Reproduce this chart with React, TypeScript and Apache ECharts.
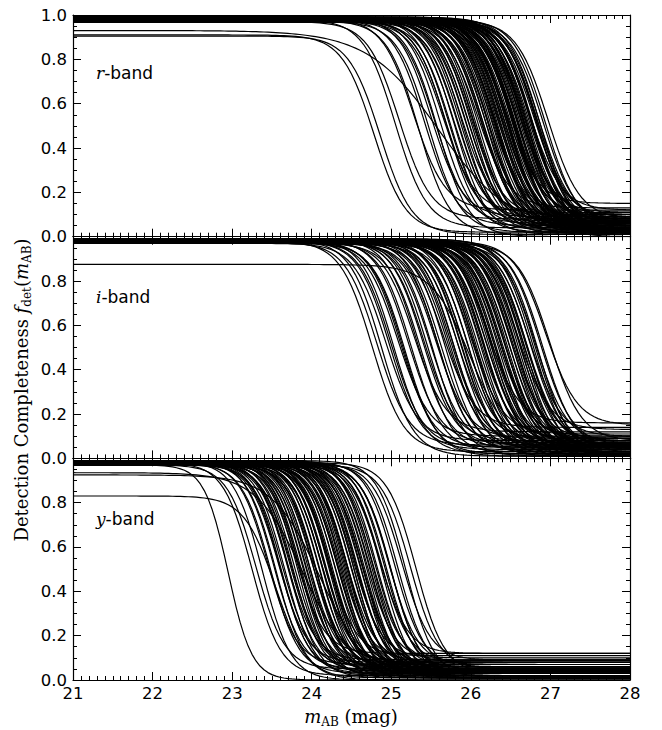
import React, { useEffect, useRef } from "react";
import * as echarts from "echarts";

// Each curve: [m50 (mag), upper plateau, lower floor, optional width (mag)]
const rBand: number[][] = [
  [24.78, 0.91, 0.02, 0.2], [24.86, 0.905, 0.01, 0.2], [25.6, 0.93, 0.03, 0.45],
  [25.05, 0.98, 0.04], [25.1, 0.97, 0.08], [25.28, 0.985, 0.12], [25.34, 0.975, 0.01],
  [25.42, 0.98, 0.05], [25.47, 0.97, 0.02], [25.5, 0.99, 0.09], [25.55, 0.975, 0.06],
  [25.58, 0.98, 0.0], [25.62, 0.985, 0.04], [25.65, 0.97, 0.11], [25.68, 0.98, 0.07],
  [25.7, 0.975, 0.02], [25.72, 0.99, 0.05], [25.75, 0.97, 0.03], [25.78, 0.98, 0.08],
  [25.8, 0.985, 0.01], [25.83, 0.975, 0.06], [25.85, 0.97, 0.04], [25.88, 0.98, 0.1],
  [25.9, 0.99, 0.02], [25.93, 0.975, 0.07], [25.95, 0.98, 0.03], [25.98, 0.97, 0.05],
  [26.0, 0.985, 0.09], [26.02, 0.98, 0.01], [26.04, 0.975, 0.06], [26.06, 0.99, 0.04],
  [26.08, 0.97, 0.13], [26.1, 0.98, 0.02], [26.12, 0.985, 0.07], [26.14, 0.975, 0.05],
  [26.16, 0.98, 0.03], [26.18, 0.97, 0.08], [26.2, 0.99, 0.01], [26.21, 0.98, 0.06],
  [26.23, 0.975, 0.04], [26.25, 0.985, 0.1], [26.26, 0.97, 0.02], [26.27, 0.98, 0.04],
  [26.28, 0.98, 0.07], [26.3, 0.99, 0.05], [26.31, 0.975, 0.03], [26.33, 0.98, 0.09],
  [26.35, 0.97, 0.01], [26.36, 0.985, 0.06], [26.37, 0.975, 0.02], [26.38, 0.98, 0.04],
  [26.4, 0.975, 0.08], [26.41, 0.99, 0.02], [26.43, 0.97, 0.05], [26.44, 0.98, 0.15],
  [26.45, 0.98, 0.06], [26.46, 0.985, 0.03], [26.47, 0.975, 0.07], [26.49, 0.98, 0.01],
  [26.5, 0.97, 0.06], [26.52, 0.99, 0.04], [26.53, 0.98, 0.09], [26.54, 0.97, 0.03],
  [26.55, 0.975, 0.02], [26.56, 0.985, 0.05], [26.57, 0.975, 0.0], [26.58, 0.97, 0.08],
  [26.59, 0.98, 0.03], [26.61, 0.99, 0.06], [26.62, 0.975, 0.01], [26.63, 0.985, 0.08],
  [26.64, 0.98, 0.04], [26.65, 0.97, 0.1], [26.66, 0.99, 0.07], [26.67, 0.985, 0.02],
  [26.68, 0.98, 0.07], [26.7, 0.975, 0.05], [26.71, 0.99, 0.03], [26.72, 0.98, 0.05],
  [26.73, 0.97, 0.08], [26.74, 0.98, 0.12], [26.76, 0.985, 0.04], [26.77, 0.975, 0.06],
  [26.79, 0.98, 0.02], [26.8, 0.97, 0.09], [26.82, 0.99, 0.05], [26.84, 0.98, 0.03],
  [26.86, 0.975, 0.07], [26.88, 0.985, 0.01], [26.91, 0.97, 0.06], [26.94, 0.98, 0.04],
  [26.97, 0.975, 0.08],
  [26.32, 0.97, 0.05], [26.42, 0.985, 0.07], [26.48, 0.98, 0.02], [26.51, 0.975, 0.1],
  [26.6, 0.97, 0.04], [26.69, 0.98, 0.01], [26.75, 0.99, 0.06], [26.78, 0.975, 0.03],
  [26.83, 0.98, 0.08], [26.85, 0.97, 0.05], [26.22, 0.985, 0.03], [26.15, 0.98, 0.06],
  [26.05, 0.975, 0.02], [25.96, 0.985, 0.07], [25.87, 0.98, 0.05], [26.62, 0.98, 0.11],
  [26.56, 0.99, 0.02], [26.46, 0.97, 0.04], [26.39, 0.98, 0.06], [26.29, 0.985, 0.09],
];

const iBand: number[][] = [
  [26.0, 0.875, 0.03, 0.25],
  [24.76, 0.98, 0.03], [24.82, 0.975, 0.06], [24.88, 0.985, 0.01], [24.93, 0.97, 0.08],
  [24.98, 0.98, 0.04], [25.03, 0.99, 0.02], [25.08, 0.975, 0.1], [25.12, 0.98, 0.05],
  [25.17, 0.97, 0.01], [25.21, 0.985, 0.07], [25.25, 0.98, 0.03], [25.29, 0.975, 0.12],
  [25.33, 0.99, 0.05], [25.37, 0.97, 0.02], [25.41, 0.98, 0.08], [25.45, 0.985, 0.04],
  [25.49, 0.975, 0.06], [25.52, 0.98, 0.01], [25.56, 0.97, 0.09], [25.59, 0.99, 0.03],
  [25.62, 0.98, 0.05], [25.65, 0.975, 0.14], [25.68, 0.985, 0.02], [25.71, 0.97, 0.07],
  [25.74, 0.98, 0.04], [25.77, 0.99, 0.06], [25.8, 0.975, 0.01], [25.82, 0.98, 0.09],
  [25.85, 0.97, 0.03], [25.87, 0.985, 0.05], [25.9, 0.98, 0.08], [25.92, 0.975, 0.02],
  [25.95, 0.99, 0.06], [25.97, 0.97, 0.04], [26.0, 0.98, 0.11], [26.02, 0.985, 0.01],
  [26.04, 0.975, 0.07], [26.07, 0.98, 0.03], [26.09, 0.97, 0.05], [26.11, 0.99, 0.09],
  [26.13, 0.98, 0.02], [26.15, 0.975, 0.06], [26.17, 0.985, 0.04], [26.19, 0.97, 0.08],
  [26.21, 0.98, 0.16], [26.23, 0.99, 0.03], [26.25, 0.975, 0.05], [26.27, 0.98, 0.01],
  [26.29, 0.97, 0.07], [26.31, 0.985, 0.04], [26.33, 0.98, 0.1], [26.35, 0.975, 0.02],
  [26.37, 0.99, 0.06], [26.39, 0.97, 0.03], [26.41, 0.98, 0.08], [26.43, 0.985, 0.05],
  [26.45, 0.975, 0.01], [26.47, 0.98, 0.07], [26.49, 0.97, 0.04], [26.51, 0.99, 0.09],
  [26.53, 0.98, 0.02], [26.55, 0.975, 0.06], [26.57, 0.985, 0.03], [26.59, 0.97, 0.13],
  [26.61, 0.98, 0.05], [26.63, 0.99, 0.01], [26.65, 0.975, 0.08], [26.67, 0.98, 0.04],
  [26.69, 0.97, 0.06], [26.71, 0.985, 0.02], [26.73, 0.98, 0.1], [26.75, 0.975, 0.05],
  [26.78, 0.99, 0.03], [26.81, 0.97, 0.07], [26.84, 0.98, 0.01], [26.87, 0.985, 0.06],
  [26.9, 0.975, 0.04], [26.94, 0.98, 0.15], [26.99, 0.97, 0.08],
  [25.0, 0.98, 0.05], [25.15, 0.975, 0.02], [25.4, 0.985, 0.06], [25.6, 0.97, 0.03],
  [25.75, 0.98, 0.07], [25.88, 0.99, 0.04], [26.05, 0.98, 0.02], [26.2, 0.975, 0.06],
  [26.3, 0.98, 0.03], [26.4, 0.97, 0.05], [26.5, 0.985, 0.08], [26.6, 0.98, 0.02],
  [26.7, 0.975, 0.06], [26.8, 0.99, 0.04], [26.46, 0.98, 0.03], [26.36, 0.975, 0.09],
  [26.56, 0.97, 0.05], [26.66, 0.985, 0.01], [26.26, 0.98, 0.07], [26.16, 0.99, 0.04],
];

const yBand: number[][] = [
  [22.95, 0.97, 0.0, 0.15], [23.55, 0.83, 0.0, 0.2], [23.9, 0.935, 0.02, 0.3], [24.1, 0.925, 0.01, 0.3],
  [23.25, 0.98, 0.02], [23.3, 0.97, 0.05], [23.38, 0.985, 0.0], [23.45, 0.98, 0.07],
  [23.48, 0.975, 0.03], [23.52, 0.99, 0.05], [23.55, 0.98, 0.01], [23.58, 0.975, 0.08],
  [23.61, 0.985, 0.03], [23.63, 0.97, 0.06], [23.66, 0.98, 0.02], [23.68, 0.99, 0.09],
  [23.7, 0.975, 0.04], [23.72, 0.98, 0.01], [23.74, 0.97, 0.07], [23.76, 0.985, 0.03],
  [23.78, 0.98, 0.05], [23.8, 0.975, 0.12], [23.82, 0.99, 0.02], [23.84, 0.97, 0.06],
  [23.86, 0.98, 0.04], [23.88, 0.985, 0.08], [23.9, 0.975, 0.01], [23.92, 0.98, 0.05],
  [23.94, 0.97, 0.03], [23.96, 0.99, 0.07], [23.98, 0.98, 0.02], [24.0, 0.975, 0.09],
  [24.02, 0.985, 0.04], [24.04, 0.97, 0.06], [24.06, 0.98, 0.01], [24.08, 0.99, 0.05],
  [24.1, 0.975, 0.03], [24.12, 0.98, 0.08], [24.14, 0.97, 0.02], [24.16, 0.985, 0.06],
  [24.18, 0.98, 0.04], [24.2, 0.975, 0.11], [24.22, 0.99, 0.01], [24.24, 0.97, 0.05],
  [24.26, 0.98, 0.03], [24.28, 0.985, 0.07], [24.3, 0.975, 0.02], [24.32, 0.98, 0.06],
  [24.34, 0.97, 0.04], [24.36, 0.99, 0.09], [24.38, 0.98, 0.01], [24.4, 0.975, 0.05],
  [24.42, 0.985, 0.03], [24.44, 0.97, 0.08], [24.46, 0.98, 0.02], [24.48, 0.99, 0.06],
  [24.5, 0.975, 0.04], [24.52, 0.98, 0.1], [24.54, 0.97, 0.01], [24.56, 0.985, 0.05],
  [24.58, 0.98, 0.03], [24.6, 0.975, 0.07], [24.62, 0.99, 0.02], [24.64, 0.97, 0.06],
  [24.66, 0.98, 0.04], [24.68, 0.985, 0.09], [24.7, 0.975, 0.01], [24.72, 0.98, 0.05],
  [24.74, 0.97, 0.03], [24.76, 0.99, 0.08], [24.78, 0.98, 0.02], [24.8, 0.975, 0.06],
  [24.82, 0.985, 0.04], [24.85, 0.97, 0.12], [24.88, 0.98, 0.01], [24.91, 0.99, 0.05],
  [24.94, 0.975, 0.03], [24.97, 0.98, 0.07], [25.0, 0.97, 0.02], [25.04, 0.985, 0.06],
  [25.08, 0.98, 0.04], [25.13, 0.975, 0.09], [25.18, 0.99, 0.01], [25.24, 0.97, 0.05],
  [25.31, 0.98, 0.03],
  [23.6, 0.98, 0.04], [23.73, 0.975, 0.06], [23.85, 0.985, 0.02], [23.95, 0.98, 0.05],
  [24.05, 0.97, 0.03], [24.15, 0.99, 0.07], [24.25, 0.98, 0.01], [24.35, 0.975, 0.05],
  [24.45, 0.985, 0.03], [24.55, 0.98, 0.06], [24.65, 0.97, 0.02], [24.75, 0.99, 0.04],
  [24.87, 0.98, 0.08], [24.99, 0.975, 0.03], [24.43, 0.98, 0.05], [24.33, 0.97, 0.04],
  [24.53, 0.985, 0.02], [24.63, 0.98, 0.06], [24.23, 0.975, 0.03], [24.13, 0.98, 0.05],
];

const bands = [rBand, iBand, yBand];
const bandNames = ["r", "i", "y"];
const bandWidths = [0.2, 0.2, 0.18];
const xMin = 21;
const xMax = 28;
const yTickLabels = ["0.0", "0.2", "0.4", "0.6", "0.8", "1.0"];

const GRID_LEFT = 73;
const GRID_RIGHT = 32;
const GRID_TOPS = [15, 236.7, 458.3];
const GRID_H = 221.7;

function curvePoints(c: number[], w: number): number[][] {
  const [m50, top, floor, cw] = c;
  const s = cw !== undefined ? cw : w;
  const pts: number[][] = [];
  for (let k = 0; k <= 140; k++) {
    const m = xMin + k * 0.05;
    pts.push([m, floor + (top - floor) / (1 + Math.exp((m - m50) / s))]);
  }
  return pts;
}

export default function App() {
  const ref = useRef<HTMLDivElement>(null);
  useEffect(() => {
    document.body.style.margin = "0";
    if (!ref.current) return;
    const chart = echarts.init(ref.current, null, { renderer: "svg" });
    const axisLine = { show: true, onZero: false, lineStyle: { color: "#000", width: 1.2 } };
    const xAxes: any[] = [];
    const yAxes: any[] = [];
    const grids: any[] = [];
    const series: any[] = [];
    for (let i = 0; i < 3; i++) {
      grids.push({ left: GRID_LEFT, right: GRID_RIGHT, top: GRID_TOPS[i], height: GRID_H });
      for (const pos of ["bottom", "top"]) {
        xAxes.push({
          gridIndex: i, type: "value", min: xMin, max: xMax, interval: 1, position: pos,
          axisLine,
          axisTick: { show: true, inside: true, length: 8, lineStyle: { color: "#000", width: 1 } },
          minorTick: { show: true, splitNumber: 10, length: 4, lineStyle: { color: "#000", width: 1 } },
          splitLine: { show: false }, minorSplitLine: { show: false },
          axisLabel: {
            show: pos === "bottom" && i === 2, color: "#000", fontFamily: "DejaVu Sans", fontSize: 16.5, margin: 5,
          },
        });
      }
      for (const pos of ["left", "right"]) {
        yAxes.push({
          gridIndex: i, type: "value", min: 0, max: 1, interval: 0.2, position: pos,
          axisLine,
          axisTick: { show: true, inside: true, length: 8, lineStyle: { color: "#000", width: 1 } },
          minorTick: { show: true, splitNumber: 4, length: 4, lineStyle: { color: "#000", width: 1 } },
          splitLine: { show: false }, minorSplitLine: { show: false },
          axisLabel: {
            show: pos === "left", color: "#000", fontFamily: "DejaVu Sans", fontSize: 16.5, margin: 6,
            showMaxLabel: i === 0,
            formatter: (v: number) => yTickLabels[Math.round(v / 0.2)],
          },
        });
      }
      bands[i].forEach((c) => {
        series.push({
          type: "line", xAxisIndex: 2 * i, yAxisIndex: 2 * i, showSymbol: false, silent: true,
          data: curvePoints(c, bandWidths[i]),
          lineStyle: { color: "#000", width: 1.2 },
        });
      });
    }
    const labelY = [73, 297, 519];
    const graphic: any[] = labelY.map((y, i) => ({
      type: "text", x: 96, y,
      style: {
        text: `{a|${bandNames[i]}}{b|-band}`,
        align: "left", verticalAlign: "middle", textAlign: "left", textVerticalAlign: "middle",
        rich: {
          a: { fontFamily: "DejaVu Serif", fontStyle: "italic", fontSize: 17, color: "#000" },
          b: { fontFamily: "DejaVu Sans", fontSize: 17, color: "#000" },
        },
      },
    }));
    const mathRich = {
      t: { fontFamily: "DejaVu Serif", fontSize: 18, color: "#000", lineHeight: 24, verticalAlign: "middle" },
      i: { fontFamily: "DejaVu Serif", fontStyle: "italic", fontSize: 18, color: "#000", lineHeight: 24, verticalAlign: "middle" },
      s: { fontFamily: "DejaVu Serif", fontSize: 12, color: "#000", lineHeight: 24, verticalAlign: "bottom" },
    };
    graphic.push({
      type: "text", x: 21, y: 390, rotation: Math.PI / 2,
      style: {
        text: "{t|Detection Completeness }{i|f}{s|det}{t|(}{i|m}{s|AB}{t|)}",
        align: "center", verticalAlign: "middle", textAlign: "center", textVerticalAlign: "middle",
        rich: mathRich,
      },
    });
    graphic.push({
      type: "text", x: 351, y: 716,
      style: {
        text: "{i|m}{s|AB}{t| (mag)}",
        align: "center", verticalAlign: "middle", textAlign: "center", textVerticalAlign: "middle",
        rich: mathRich,
      },
    });
    chart.setOption({
      animation: false,
      backgroundColor: "#fff",
      grid: grids,
      xAxis: xAxes,
      yAxis: yAxes,
      series,
      graphic,
    });
    return () => chart.dispose();
  }, []);
  return <div ref={ref} style={{ width: 662, height: 730 }} />;
}
